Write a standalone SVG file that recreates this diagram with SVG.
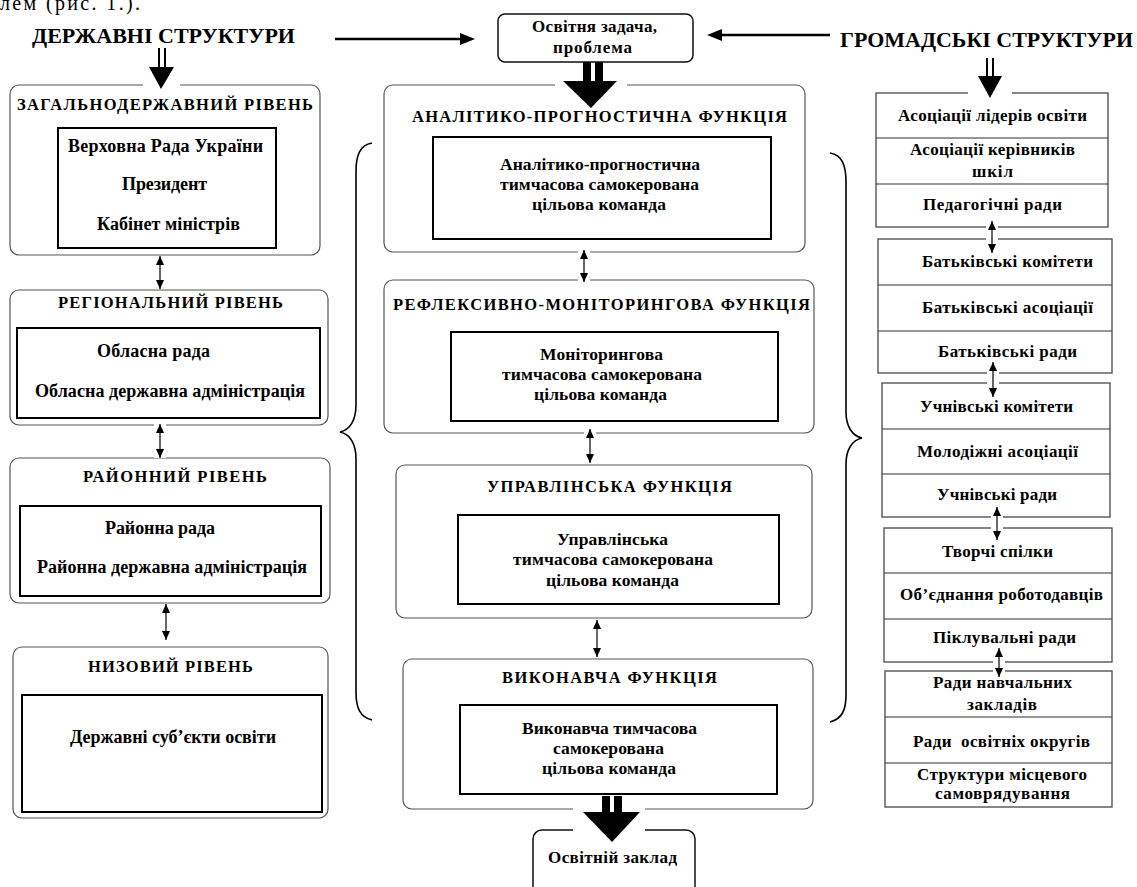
<svg xmlns="http://www.w3.org/2000/svg" width="1137" height="887" viewBox="0 0 1137 887">
<style>
text{font-family:"Liberation Serif","DejaVu Serif","Times New Roman",serif;font-weight:bold;fill:#000;}
.t15{font-size:17px;}
.t16{font-size:18px;}
.tm{font-size:17.5px;}
.tt{font-size:16.5px;}
.hd{font-size:22px;}
.rb{fill:none;stroke:#555;stroke-width:1.2;}
.ib{fill:none;stroke:#000;stroke-width:2;}
.sq{fill:none;stroke:#555;stroke-width:1.4;}
.dv{stroke:#333;stroke-width:1.2;}
.cb{fill:#fff;stroke:#111;stroke-width:1.5;}
.ln{stroke:#000;stroke-width:1.2;fill:none;}
.halo{stroke:#fff;stroke-width:12;}
.br{fill:none;stroke:#000;stroke-width:1.6;}
</style>
<defs>
<marker id="ah" markerUnits="userSpaceOnUse" markerWidth="9" markerHeight="8" refX="9" refY="4" orient="auto-start-reverse"><path d="M0,0 L9,4 L0,8 z" fill="#000"/></marker>
</defs>
<rect width="1137" height="887" fill="#fff"/>
<text x="0" y="10" style="font-size:20px;font-weight:normal" textLength="140">лем (рис. 1.).</text>

<g id="header-state"><text class="hd" x="32" y="43" textLength="263" lengthAdjust="spacingAndGlyphs">ДЕРЖАВНІ СТРУКТУРИ</text></g>
<g id="header-public"><text class="hd" x="840" y="47" textLength="293" lengthAdjust="spacingAndGlyphs">ГРОМАДСЬКІ СТРУКТУРИ</text></g>

<g id="task"><rect class="cb" x="498" y="14" width="195" height="48" rx="7"/>
<text class="t15" x="532" y="32" textLength="125">Освітня задача,</text>
<text class="t15" x="553" y="53" textLength="79">проблема</text></g>

<!-- left column -->
<g id="lvl-national"><rect class="rb" x="10" y="85" width="310" height="170" rx="9"/>
<text class="tt" x="17" y="110" textLength="296" lengthAdjust="spacing">ЗАГАЛЬНОДЕРЖАВНИЙ РІВЕНЬ</text>
<rect class="ib" x="58" y="128" width="218" height="120"/>
<text class="t16" x="68" y="152" textLength="195">Верховна Рада України</text>
<text class="t16" x="122" y="190" textLength="85">Президент</text>
<text class="t16" x="97" y="230" textLength="143">Кабінет міністрів</text></g>

<g id="lvl-regional"><rect class="rb" x="10" y="290" width="318" height="135" rx="9"/>
<text class="tt" x="58" y="308" textLength="225" lengthAdjust="spacing">РЕГІОНАЛЬНИЙ РІВЕНЬ</text>
<rect class="ib" x="17" y="328" width="303" height="90"/>
<text class="t16" x="97" y="357" textLength="113">Обласна рада</text>
<text class="t16" x="35" y="397" textLength="270">Обласна державна адміністрація</text></g>

<g id="lvl-district"><rect class="rb" x="10" y="458" width="320" height="145" rx="9"/>
<text class="tt" x="83" y="482" textLength="184" lengthAdjust="spacing">РАЙОННИЙ РІВЕНЬ</text>
<rect class="ib" x="20" y="506" width="301" height="90"/>
<text class="t16" x="105" y="534" textLength="110">Районна рада</text>
<text class="t16" x="37" y="573" textLength="270">Районна державна адміністрація</text></g>

<g id="lvl-local"><rect class="rb" x="13" y="647" width="315" height="171" rx="9"/>
<text class="tt" x="88" y="672" textLength="165" lengthAdjust="spacing">НИЗОВИЙ РІВЕНЬ</text>
<rect class="ib" x="22" y="695" width="300" height="117"/>
<text class="t16" x="70" y="743" textLength="206">Державні суб’єкти освіти</text></g>

<!-- middle column -->
<g id="fn-analytic"><rect class="rb" x="384" y="85" width="421" height="167" rx="9"/>
<text class="tt" x="412" y="122" textLength="375" lengthAdjust="spacing">АНАЛІТИКО-ПРОГНОСТИЧНА ФУНКЦІЯ</text>
<rect class="ib" x="433" y="137" width="338" height="102"/>
<text class="tm" x="500" y="170" textLength="200">Аналітико-прогностична</text>
<text class="tm" x="500" y="190" textLength="199">тимчасова самокерована</text>
<text class="tm" x="532" y="210" textLength="134">цільова команда</text></g>

<g id="fn-monitor"><rect class="rb" x="384" y="280" width="430" height="153" rx="9"/>
<text class="tt" x="393" y="310" textLength="417" lengthAdjust="spacing">РЕФЛЕКСИВНО-МОНІТОРИНГОВА ФУНКЦІЯ</text>
<rect class="ib" x="451" y="332" width="327" height="89"/>
<text class="tm" x="540" y="360" textLength="123">Моніторингова</text>
<text class="tm" x="502" y="380" textLength="200">тимчасова самокерована</text>
<text class="tm" x="534" y="400" textLength="133">цільова команда</text></g>

<g id="fn-manage"><rect class="rb" x="396" y="465" width="416" height="153" rx="9"/>
<text class="tt" x="487" y="492" textLength="245" lengthAdjust="spacing">УПРАВЛІНСЬКА ФУНКЦІЯ</text>
<rect class="ib" x="458" y="515" width="321" height="89"/>
<text class="tm" x="557" y="545" textLength="111">Управлінська</text>
<text class="tm" x="513" y="565" textLength="200">тимчасова самокерована</text>
<text class="tm" x="546" y="586" textLength="133">цільова команда</text></g>

<g id="fn-exec"><rect class="rb" x="403" y="659" width="410" height="150" rx="9"/>
<text class="tt" x="502" y="683" textLength="215" lengthAdjust="spacing">ВИКОНАВЧА ФУНКЦІЯ</text>
<rect class="ib" x="460" y="705" width="317" height="89"/>
<text class="tm" x="522" y="734" textLength="175">Виконавча тимчасова</text>
<text class="tm" x="553" y="754" textLength="111">самокерована</text>
<text class="tm" x="542" y="774" textLength="134">цільова команда</text></g>

<g id="school"><rect class="cb" x="533" y="830" width="162" height="70" rx="9"/>
<text class="t15" x="548" y="863" textLength="129">Освітній заклад</text></g>

<!-- right column -->
<g id="pub-1"><rect class="sq" x="876" y="93" width="232" height="134"/>
<line class="dv" x1="876" y1="138" x2="1108" y2="138"/><line class="dv" x1="876" y1="184" x2="1108" y2="184"/>
<text class="t15" x="898" y="121" textLength="189">Асоціації лідерів освіти</text>
<text class="t15" x="910" y="155" textLength="165">Асоціації керівників</text>
<text class="t15" x="972" y="177" textLength="41">шкіл</text>
<text class="t15" x="923" y="210" textLength="139">Педагогічні ради</text></g>

<g id="pub-2"><rect class="sq" x="878" y="239" width="234" height="134"/>
<line class="dv" x1="878" y1="285" x2="1112" y2="285"/><line class="dv" x1="878" y1="331" x2="1112" y2="331"/>
<text class="t15" x="922" y="267" textLength="171">Батьківські комітети</text>
<text class="t15" x="922" y="313" textLength="171">Батьківські асоціації</text>
<text class="t15" x="938" y="357" textLength="139">Батьківські ради</text></g>

<g id="pub-3"><rect class="sq" x="882" y="383" width="228" height="134"/>
<line class="dv" x1="882" y1="429" x2="1110" y2="429"/><line class="dv" x1="882" y1="474" x2="1110" y2="474"/>
<text class="t15" x="920" y="412" textLength="153">Учнівські комітети</text>
<text class="t15" x="917" y="457" textLength="161">Молодіжні асоціації</text>
<text class="t15" x="937" y="500" textLength="120">Учнівські ради</text></g>

<g id="pub-4"><rect class="sq" x="884" y="528" width="228" height="134"/>
<line class="dv" x1="884" y1="573" x2="1112" y2="573"/><line class="dv" x1="884" y1="619" x2="1112" y2="619"/>
<text class="t15" x="942" y="557" textLength="111">Творчі спілки</text>
<text class="t15" x="900" y="600" textLength="203">Об’єднання роботодавців</text>
<text class="t15" x="933" y="643" textLength="143">Піклувальні ради</text></g>

<g id="pub-5"><rect class="sq" x="885" y="671" width="227" height="136"/>
<line class="dv" x1="885" y1="717" x2="1112" y2="717"/><line class="dv" x1="885" y1="763" x2="1112" y2="763"/>
<text class="t15" x="933" y="688" textLength="139">Ради навчальних</text>
<text class="t15" x="967" y="710" textLength="70">закладів</text>
<text class="t15" x="913" y="747" textLength="177" xml:space="preserve">Ради  освітніх округів</text>
<text class="t15" x="917" y="780" textLength="170">Структури місцевого</text>
<text class="t15" x="935" y="799" textLength="135">самоврядування</text></g>

<!-- braces -->
<g id="braces">
<path class="br" d="M372,143 C360,145 356,155 356,172 L356,405 C356,420 350,430 340,432 C350,434 356,444 356,459 L356,692 C356,708 360,717 372,720"/>
<path class="br" d="M830,153 C842,155 846,165 846,182 L846,412 C846,426 852,436 862,438 C852,440 846,450 846,464 L846,695 C846,710 842,719 830,722"/>
</g>

<g id="connectors">
<line x1="335" y1="39" x2="462" y2="39" stroke="#000" stroke-width="2.5"/>
<polygon points="460,33 475,39 460,45" fill="#000"/>
<line x1="720" y1="35" x2="830" y2="35" stroke="#000" stroke-width="2.5"/>
<polygon points="722,29 707,35 722,41" fill="#000"/>

<rect x="143" y="80" width="37" height="10" fill="#fff"/>
<line x1="159" y1="48" x2="159" y2="69" stroke="#000" stroke-width="2"/>
<line x1="165" y1="48" x2="165" y2="69" stroke="#000" stroke-width="2"/>
<polygon points="149,67 174,67 161,89" fill="#000"/>

<rect x="968" y="88" width="44" height="10" fill="#fff"/>
<line x1="987" y1="58" x2="987" y2="78" stroke="#000" stroke-width="2"/>
<line x1="993" y1="58" x2="993" y2="78" stroke="#000" stroke-width="2"/>
<polygon points="978,76 1002,76 990,98" fill="#000"/>

<rect x="555" y="80" width="72" height="10" fill="#fff"/>
<rect x="583" y="62" width="8" height="21" fill="#000"/>
<rect x="595" y="62" width="8" height="21" fill="#000"/>
<polygon points="563,81 617,81 591,108" fill="#000"/>

<rect x="573" y="804" width="72" height="10" fill="#fff"/>
<rect x="573" y="825" width="72" height="10" fill="#fff"/>
<rect x="602" y="796" width="8" height="17" fill="#000"/>
<rect x="614" y="796" width="8" height="17" fill="#000"/>
<polygon points="583,812 640,812 612,842" fill="#000"/>

<g>
<line class="halo" x1="160" y1="256" x2="160" y2="289"/>
<line class="halo" x1="160" y1="424" x2="160" y2="458"/>
<line class="halo" x1="166" y1="604" x2="166" y2="640"/>
<line class="halo" x1="584" y1="250" x2="584" y2="282"/>
<line class="halo" x1="590" y1="429" x2="590" y2="463"/>
<line class="halo" x1="597" y1="620" x2="597" y2="657"/>
<line class="halo" x1="992" y1="221" x2="992" y2="253"/>
<line class="halo" x1="993" y1="362" x2="993" y2="397"/>
<line class="halo" x1="997" y1="507" x2="997" y2="540"/>
<line class="halo" x1="999" y1="648" x2="999" y2="677"/>
</g>
<line class="ln" x1="160" y1="256" x2="160" y2="289" marker-start="url(#ah)" marker-end="url(#ah)"/>
<line class="ln" x1="160" y1="424" x2="160" y2="458" marker-start="url(#ah)" marker-end="url(#ah)"/>
<line class="ln" x1="166" y1="604" x2="166" y2="640" marker-start="url(#ah)" marker-end="url(#ah)"/>
<line class="ln" x1="584" y1="250" x2="584" y2="282" marker-start="url(#ah)" marker-end="url(#ah)"/>
<line class="ln" x1="590" y1="429" x2="590" y2="463" marker-start="url(#ah)" marker-end="url(#ah)"/>
<line class="ln" x1="597" y1="620" x2="597" y2="657" marker-start="url(#ah)" marker-end="url(#ah)"/>
<line class="ln" x1="992" y1="221" x2="992" y2="253" marker-start="url(#ah)" marker-end="url(#ah)"/>
<line class="ln" x1="993" y1="362" x2="993" y2="397" marker-start="url(#ah)" marker-end="url(#ah)"/>
<line class="ln" x1="997" y1="507" x2="997" y2="540" marker-start="url(#ah)" marker-end="url(#ah)"/>
<line class="ln" x1="999" y1="648" x2="999" y2="677" marker-start="url(#ah)" marker-end="url(#ah)"/>
</g>
</svg>
